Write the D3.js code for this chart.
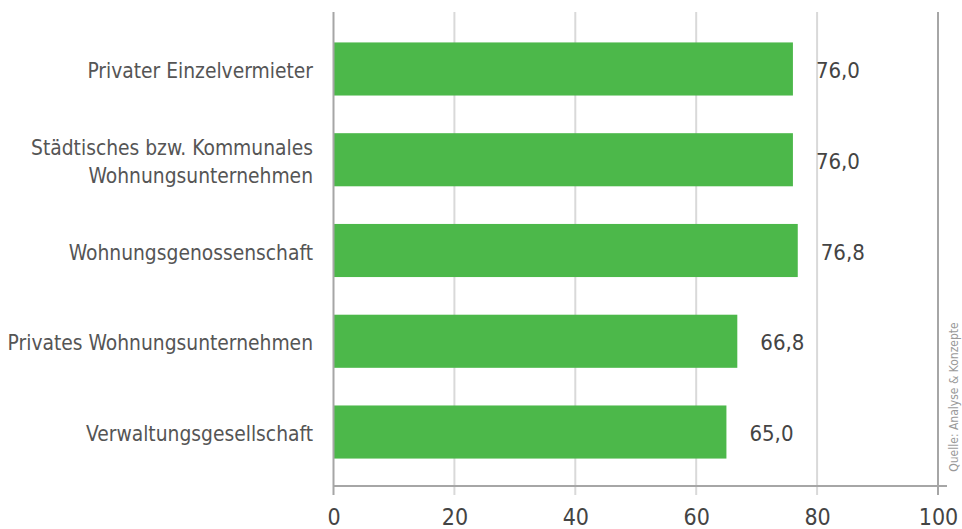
<!DOCTYPE html>
<html>
<head>
<meta charset="utf-8">
<script src="https://cdn.jsdelivr.net/npm/d3@7/dist/d3.min.js"></script>
<style>
  html, body { margin: 0; padding: 0; background: #fff; }
  svg { display: block; font-family: "DejaVu Sans Condensed", "DejaVu Sans", sans-serif; }
</style>
</head>
<body>
<svg id="chart" width="962" height="529"></svg>
<script>
// Vermietertypen und Werte
const categories = [
  ["Privater Einzelvermieter"],
  ["Städtisches bzw. Kommunales", "Wohnungsunternehmen"],
  ["Wohnungsgenossenschaft"],
  ["Privates Wohnungsunternehmen"],
  ["Verwaltungsgesellschaft"]
];
const values = [76.0, 76.0, 76.8, 66.8, 65.0];
const xTicks = [0, 20, 40, 60, 80, 100];
const source = "Quelle: Analyse & Konzepte";

const svg = d3.select("#chart");
const fmt = v => d3.format(".1f")(v).replace(".", ",");

const x = d3.scaleLinear().domain([0, 100]).range([333.5, 938]);
const y = d3.scaleBand()
  .domain(d3.range(categories.length))
  .range([23.6, 477.4])
  .paddingInner(0.415)
  .paddingOuter(0.2075);

const gridTop = 12, axisY = 486;

// Gitterlinien
svg.append("g").selectAll("line")
  .data(xTicks.filter(t => t > 0))
  .join("line")
  .attr("x1", d => x(d)).attr("x2", d => x(d))
  .attr("y1", gridTop).attr("y2", axisY + 9)
  .attr("stroke", d => d === 100 ? "#a6a6a6" : "#d9d9d9")
  .attr("stroke-width", 2);

// Balken
svg.append("g").selectAll("rect")
  .data(values)
  .join("rect")
  .attr("x", x(0))
  .attr("y", (d, i) => y(i))
  .attr("width", d => x(d) - x(0))
  .attr("height", y.bandwidth())
  .attr("fill", "#4cb84a");

// Achsen
svg.append("line")
  .attr("x1", x(0)).attr("x2", x(0))
  .attr("y1", gridTop).attr("y2", axisY + 9)
  .attr("stroke", "#a6a6a6").attr("stroke-width", 2);
svg.append("line")
  .attr("x1", x(0)).attr("x2", 947)
  .attr("y1", axisY).attr("y2", axisY)
  .attr("stroke", "#a6a6a6").attr("stroke-width", 2);

// Achsenbeschriftung
const xAxis = d3.axisBottom(x).tickValues(xTicks).tickSize(0).tickPadding(0);
const gx = svg.append("g").attr("transform", `translate(0,${axisY})`).call(xAxis);
gx.select(".domain").remove();
gx.selectAll("text")
  .attr("y", 39)
  .attr("dy", null)
  .attr("font-size", 23)
  .attr("font-family", "DejaVu Sans Condensed, DejaVu Sans, sans-serif")
  .attr("fill", "#444");

// Kategorien
const cat = svg.append("g").selectAll("text")
  .data(categories)
  .join("text")
  .attr("text-anchor", "end")
  .attr("font-size", 20.8)
  .attr("fill", "#555");
cat.each(function(lines, i) {
  const cy = y(i) + y.bandwidth() / 2;
  const n = lines.length;
  d3.select(this).selectAll("tspan")
    .data(lines)
    .join("tspan")
    .attr("x", 313)
    .attr("y", (d, j) => cy + 9 + (j - (n - 1) / 2) * 28)
    .text(d => d);
});

// Werte
svg.append("g").selectAll("text")
  .data(values)
  .join("text")
  .attr("x", d => x(d) + 23)
  .attr("y", (d, i) => y(i) + y.bandwidth() / 2 + 9)
  .attr("font-size", 22)
  .attr("fill", "#444")
  .text(d => fmt(d));

// Quelle
svg.append("text")
  .attr("transform", "translate(958,397) rotate(-90)")
  .attr("text-anchor", "middle")
  .attr("font-size", 12)
  .attr("fill", "#999")
  .text(source);
</script>
</body>
</html>
